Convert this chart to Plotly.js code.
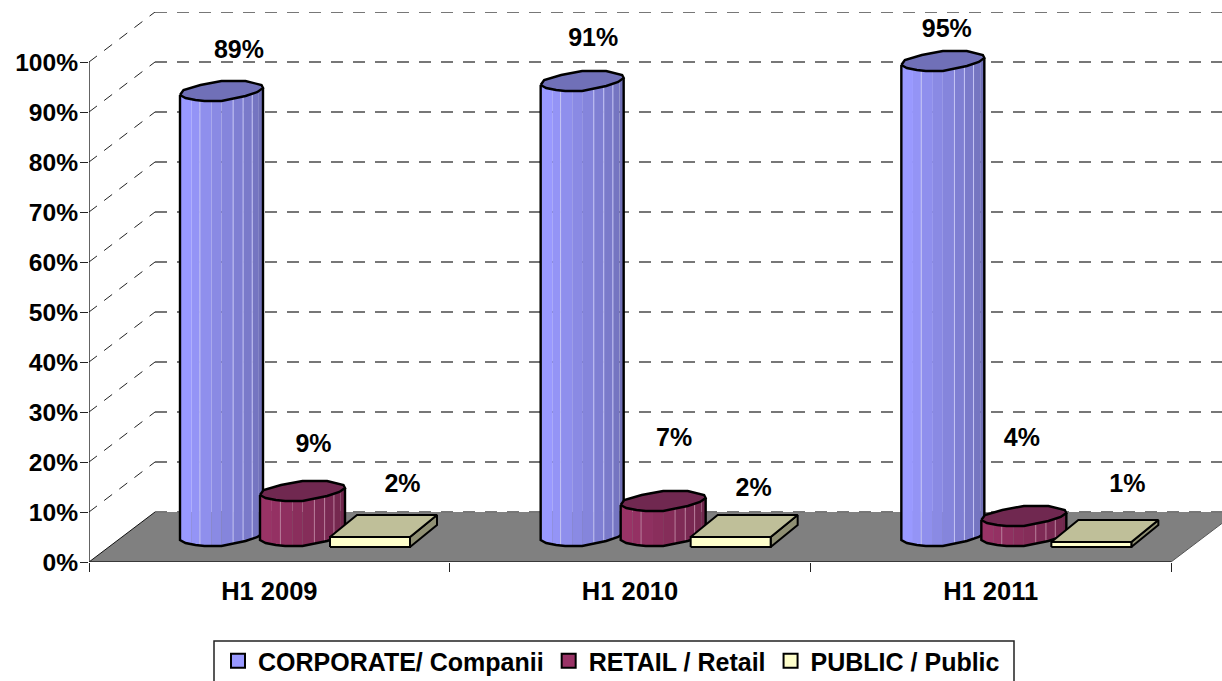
<!DOCTYPE html>
<html>
<head>
<meta charset="utf-8">
<script src="https://cdn.plot.ly/plotly-3.0.1.min.js"></script>
<style>html,body{margin:0;padding:0;background:#fff;overflow:hidden}</style>
</head>
<body>
<div id="chart" style="width:1222px;height:681px"></div>
<script>
// ---- chart data ----
const categories = ["H1 2009", "H1 2010", "H1 2011"];
const corporate = [89, 91, 95];
const retail = [9, 7, 4];
const publicSector = [2, 2, 1];
const seriesNames = ["CORPORATE/ Companii", "RETAIL / Retail", "PUBLIC / Public"];
const yTickValues = [0, 10, 20, 30, 40, 50, 60, 70, 80, 90, 100];

// ---- projection of the fake 3-D box, in axis units ----
const PX_X = 1 / 360.67, PX_Y = 1 / 5;          // axis units per pixel
const depthX = 66 * PX_X, depthY = 10;          // wall is pushed back by this
const xMax = (1222 - 89) * PX_X, yMax = 110;
const baseY = 5.2;                              // height of bar centre above the front edge
const slot = [(132.5) * PX_X, (213.5) * PX_X, (281) * PX_X];
const halfW = [41.5, 42.5, 40];
const boxDepth = [13.5, 11];

// low-poly skewed ellipse of the cylinders, in pixels relative to centre (y down)
const rimBack = [[-41.5,4],[-38,-1],[-21,-6],[0,-10],[24,-10],[31,-8],[40,-6],[41.5,-3]];
const rimFront = [[41.5,-3],[36,1],[24,5],[0,10],[-17,10],[-26,9],[-36,7],[-41.5,4]];
const facetStops = [0,.14,.24,.38,.50,.64,.76,.87,.95,1];
const lightLines = [.24,.64,.76,.87];

const bold = {family:'"Liberation Sans", Arial, sans-serif', size:25, color:'#000', weight:700};
const boldCat = {...bold, size:25.5};
const boldTick = {...bold, size:24.6};
const traces = [];
const skip = {hoverinfo:'skip', showlegend:false};

function poly(xs, ys, fill){
  traces.push({x:[...xs,xs[0]], y:[...ys,ys[0]], mode:'lines', fill:'toself', fillcolor:fill,
    line:{width:0,color:fill}, ...skip});
}
function line(xs, ys, color, width, dash, clip){
  traces.push({x:xs, y:ys, mode:'lines', line:{color, width, dash:dash||'solid'},
    cliponaxis:!clip, ...skip});
}
function lerp(a,b,t){return a.map((v,i)=>Math.round(v+(b[i]-v)*t));}
function rgb(c){return 'rgb('+c.join(',')+')';}

function frontAt(f){
  const px = f*83-41.5, r = rimFront;
  for(let i=0;i<r.length-1;i++){
    const a=r[i], b=r[i+1];
    if(px<=a[0] && px>=b[0]){ return a[1]+(b[1]-a[1])*(a[0]-px)/(a[0]-b[0]); }
  }
  return 4;
}

function cylinder(cx, value, s, c0, c1, topColor, lightColor){
  const k = halfW[s]/41.5, X = f => cx + (f*83-41.5)*k*PX_X;
  const topY = baseY + value;
  for(let i=0;i<facetStops.length-1;i++){
    const a=facetStops[i], b=facetStops[i+1];
    const col = rgb(lerp(c0,c1,i/(facetStops.length-2)));
    poly([X(a),X(b),X(b),X(a)],
         [topY-frontAt(a)*PX_Y, topY-frontAt(b)*PX_Y, baseY-frontAt(b)*PX_Y, baseY-frontAt(a)*PX_Y], col);
  }
  lightLines.forEach(f=>line([X(f),X(f)],[topY-frontAt(f)*PX_Y, baseY-frontAt(f)*PX_Y], lightColor, 1));
  const bx = rimFront.map(p=>cx+p[0]*k*PX_X), by = rimFront.map(p=>baseY-p[1]*PX_Y);
  line([cx+41.5*k*PX_X, ...bx, cx-41.5*k*PX_X],[topY+3*PX_Y, ...by, topY-4*PX_Y],'#000',2.4,'solid',true);
  const rim = rimBack.concat(rimFront.slice(1));
  const tx = rim.map(p=>cx+p[0]*k*PX_X), ty = rim.map(p=>topY-p[1]*PX_Y);
  traces.push({x:tx, y:ty, mode:'lines', fill:'toself', fillcolor:topColor,
    line:{color:'#000',width:2.4}, cliponaxis:false, ...skip});
}

function box(cx, value){
  const hw = 40*PX_X, dx = boxDepth[0]*PX_X, dy = boxDepth[1]*PX_Y;
  const by = baseY - dy, top = by + value;
  const L = cx-dx-hw, R = cx-dx+hw;
  traces.push({x:[R,R+2*dx,R+2*dx,R,R], y:[by,by+2*dy,top+2*dy,top,by], mode:'lines', fill:'toself',
    fillcolor:'#8f8f73', line:{color:'#000',width:2}, cliponaxis:false, ...skip});
  traces.push({x:[L,R,R+2*dx,L+2*dx,L], y:[top,top,top+2*dy,top+2*dy,top], mode:'lines', fill:'toself',
    fillcolor:'#bfbf99', line:{color:'#000',width:2}, cliponaxis:false, ...skip});
  traces.push({x:[L,R,R,L,L], y:[by,by,top,top,by], mode:'lines', fill:'toself',
    fillcolor:'#ffffcc', line:{color:'#000',width:2}, cliponaxis:false, ...skip});
}

// floor
poly([0,3,3+depthX,depthX],[0,0,depthY,depthY],'#808080');
// back wall grid + side wall diagonals
yTickValues.forEach(v=>{
  line([depthX,xMax],[v+depthY,v+depthY],'#777',2,'12px,10px');
  if(v>0) line([0,depthX],[v,v+depthY],'#222',1,'10px,9px');
});
line([0,depthX],[0,depthY],'#111',1);
line([3,xMax],[0,(xMax-3)/depthX*depthY],'#555',1);
line([0,3],[0,0],'#222',1.4,'solid',true);
line([0,0],[0,100],'#222',1.4,'solid',true);

// bars
const purple0=[153,153,255], purple1=[112,112,184];
const wine0=[153,51,102], wine1=[112,38,76];
categories.forEach((c,i)=>{
  cylinder(i+slot[0], corporate[i], 0, purple0, purple1, '#7070b8', '#c4c4f4');
  cylinder(i+slot[1], retail[i], 1, wine0, wine1, '#702850', '#b97d9b');
  box(i+slot[2]+boxDepth[0]*PX_X, publicSector[i]);
});

// data labels, hand-placed in the original: pixel offset from each bar's top centre
const labelShift = [
  [[17.5,-39],[11,-41],[4,-30]],
  [[11,-45],[11,-61],[-2,-76]],
  [[19,-40],[9.5,-36],[22.5,-45]]
];
const tops=[corporate,retail,publicSector];
const lx=[],ly=[],lt=[];
tops.forEach((arr,s)=>arr.forEach((v,i)=>{
  lx.push(i+slot[s]+labelShift[s][i][0]*PX_X+(s===2?13.5*PX_X:0));
  ly.push(baseY+v-labelShift[s][i][1]*PX_Y);
  lt.push(v+'%');
}));
traces.push({x:lx,y:ly,text:lt,mode:'text',textposition:'middle center',textfont:bold,cliponaxis:false,...skip});

// legend entries
const legendColors=['#9999ff','#993366','#ffffcc'];
seriesNames.forEach((n,i)=>traces.push({x:[null],y:[null],name:n,mode:'markers',hoverinfo:'skip',
  marker:{symbol:'square',size:14,color:legendColors[i],line:{color:'#000',width:2}}}));

// carrier for the category axis
traces.push({x:categories.map((c,i)=>i+.5),y:categories.map(()=>0),xaxis:'x2',mode:'markers',
  marker:{opacity:0,size:1},...skip});

const layout = {
  width:1222,height:681,
  margin:{l:89,r:0,t:12,b:119,pad:0},
  paper_bgcolor:'#fff',plot_bgcolor:'#fff',
  font:bold,
  xaxis:{range:[0,xMax],tickvals:[0,1,2,3],ticktext:['','','',''],ticks:'outside',ticklen:9,tickwidth:1,tickcolor:'#222',
    showgrid:false,zeroline:false,showline:false,fixedrange:true},
  xaxis2:{range:[0,xMax],overlaying:'x',anchor:'y',side:'bottom',tickvals:categories.map((c,i)=>i+.5),ticktext:categories,
    ticks:'outside',ticklen:6,tickcolor:'rgba(0,0,0,0)',tickfont:boldCat,showgrid:false,zeroline:false,showline:false,fixedrange:true},
  yaxis:{range:[0,yMax],tickvals:yTickValues,ticktext:yTickValues.map(v=>v+'%'),ticks:'outside',ticklen:8,tickwidth:1,tickcolor:'#222',
    ticklabelstandoff:-3,tickfont:boldTick,showgrid:false,zeroline:false,showline:false,fixedrange:true},
  shapes:[{type:'rect',xref:'paper',yref:'paper',x0:(214-89)/1133,x1:(1014-89)/1133,y0:(562-641)/550,y1:(562-695)/550,
    line:{color:'#222',width:1.5},fillcolor:'#fff',layer:'below'}],
  showlegend:true,
  legend:{orientation:'h',x:218/1222,xanchor:'left',xref:'container',y:43/681,yanchor:'top',yref:'container',borderwidth:0,
    bgcolor:'rgba(0,0,0,0)',font:bold,traceorder:'normal',itemsizing:'trace'}
};
Plotly.newPlot('chart',traces,layout,{displayModeBar:false,staticPlot:true});
</script>
</body>
</html>
